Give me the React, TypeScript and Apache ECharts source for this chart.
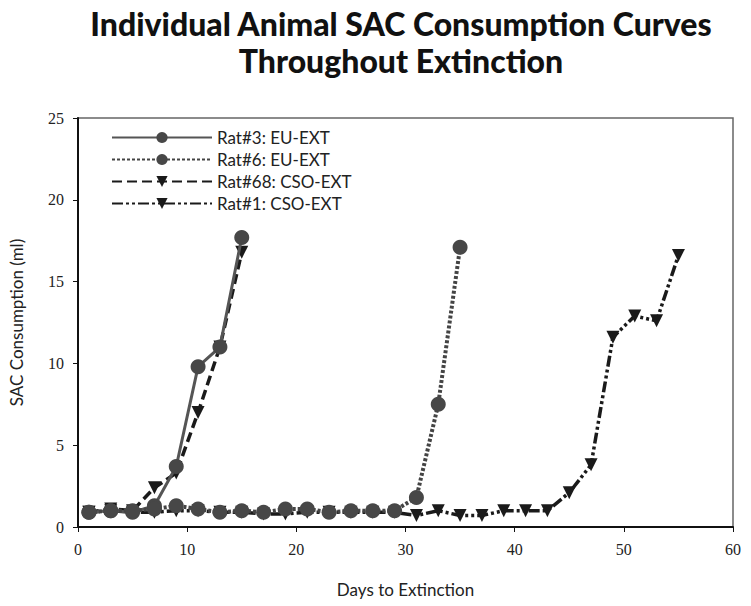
import React, { useEffect, useRef } from "react";
import * as echarts from "echarts";

const rat3X = [1, 3, 5, 7, 9, 11, 13, 15];
const rat3Y = [0.9, 1.0, 0.9, 1.3, 3.7, 9.8, 11.0, 17.7];

const rat6X = [1, 3, 5, 7, 9, 11, 13, 15, 17, 19, 21, 23, 25, 27, 29, 31, 33, 35];
const rat6Y = [0.9, 1.0, 1.0, 1.1, 1.3, 1.1, 0.9, 1.0, 0.9, 1.1, 1.1, 0.9, 1.0, 1.0, 1.0, 1.8, 7.5, 17.1];

const rat68X = [1, 3, 5, 7, 9, 11, 13, 15];
const rat68Y = [0.9, 1.1, 1.0, 2.4, 3.3, 7.0, 11.0, 16.8];

const rat1X = [1, 3, 5, 7, 9, 11, 13, 15, 17, 19, 21, 23, 25, 27, 29, 31, 33, 35, 37, 39, 41, 43, 45, 47, 49, 51, 53, 55];
const rat1Y = [0.9, 1.0, 0.9, 0.9, 1.0, 1.0, 0.9, 0.9, 0.8, 0.8, 0.9, 0.9, 0.9, 0.9, 0.9, 0.7, 1.0, 0.7, 0.7, 1.0, 1.0, 1.0, 2.1, 3.8, 11.6, 12.9, 12.6, 16.6];

const seriesNames = ["Rat#3: EU-EXT", "Rat#6: EU-EXT", "Rat#68: CSO-EXT", "Rat#1: CSO-EXT"];
const titleLines = ["Individual Animal SAC Consumption Curves", "Throughout Extinction"];

const zip = (xs: number[], ys: number[]) => xs.map((x, i) => [x, ys[i]]);

export default function App() {
  const ref = useRef<HTMLDivElement>(null);
  useEffect(() => {
    if (!ref.current) return;
    const chart = echarts.init(ref.current, undefined, { renderer: "svg" });
    const sans = "Lato, 'Open Sans', sans-serif";
    const serif = "'Liberation Serif', 'DejaVu Serif', serif";
    const titleStyle = {
      fontFamily: sans,
      fontWeight: 900,
      fontSize: 32,
      lineHeight: 32,
      color: "#111",
    };
    chart.setOption({
      animation: false,
      backgroundColor: "#ffffff",
      title: [
        { text: titleLines[0], left: 401, textAlign: "center", top: 7, padding: 0, textStyle: titleStyle },
        { text: titleLines[1], left: 401, textAlign: "center", top: 44, padding: 0, textStyle: titleStyle },
      ],
      legend: {
        orient: "vertical",
        left: 106,
        top: 124,
        itemWidth: 100,
        itemHeight: 14,
        itemGap: 5,
        data: seriesNames,
        textStyle: { fontFamily: sans, fontSize: 17, lineHeight: 17, color: "#222" },
      },
      grid: {
        left: 73,
        right: 18,
        top: 118,
        bottom: 79,
        show: true,
        borderColor: "#666",
        borderWidth: 1.5,
        containLabel: false,
      },
      xAxis: {
        type: "value",
        min: 0,
        max: 60,
        interval: 10,
        name: "Days to Extinction",
        nameLocation: "middle",
        nameGap: 54,
        nameTextStyle: { fontFamily: sans, fontSize: 17, color: "#222" },
        axisLine: { show: true, onZero: false, lineStyle: { color: "#111", width: 2 } },
        axisTick: { show: true, length: 5, inside: false, lineStyle: { color: "#111" } },
        axisLabel: { fontFamily: serif, fontSize: 16, color: "#222", margin: 14 },
        splitLine: { show: false },
      },
      yAxis: {
        type: "value",
        min: 0,
        max: 25,
        interval: 5,
        name: "SAC Consumption (ml)",
        nameLocation: "middle",
        nameGap: 53,
        nameTextStyle: { fontFamily: sans, fontSize: 17, color: "#222" },
        axisLine: { show: true, lineStyle: { color: "#111", width: 2 } },
        axisTick: { show: true, length: 5, inside: false, lineStyle: { color: "#111" } },
        axisLabel: { fontFamily: serif, fontSize: 16, color: "#222", margin: 14 },
        splitLine: { show: false },
      },
      series: [
        {
          name: seriesNames[2],
          type: "line",
          data: zip(rat68X, rat68Y),
          z: 2,
          symbol: "triangle",
          symbolRotate: 180,
          symbolSize: 13,
          itemStyle: { color: "#1a1a1a" },
          lineStyle: { color: "#1a1a1a", width: 3.5, type: [10, 5] },
        },
        {
          name: seriesNames[3],
          type: "line",
          data: zip(rat1X, rat1Y),
          z: 2,
          symbol: "triangle",
          symbolRotate: 180,
          symbolSize: 13,
          itemStyle: { color: "#1a1a1a" },
          lineStyle: { color: "#1a1a1a", width: 3.5, type: [11, 3, 3, 3, 3, 3] },
        },
        {
          name: seriesNames[0],
          type: "line",
          data: zip(rat3X, rat3Y),
          z: 3,
          symbol: "circle",
          symbolSize: 15,
          itemStyle: { color: "#474747" },
          lineStyle: { color: "#555555", width: 3, type: "solid" },
        },
        {
          name: seriesNames[1],
          type: "line",
          data: zip(rat6X, rat6Y),
          z: 4,
          symbol: "circle",
          symbolSize: 15,
          itemStyle: { color: "#474747" },
          lineStyle: { color: "#444444", width: 4, type: [3, 2] },
        },
      ],
    });
    return () => chart.dispose();
  }, []);
  return (
    <div
      ref={ref}
      style={{ position: "fixed", left: 0, top: 0, width: 751, height: 606 }}
    />
  );
}
